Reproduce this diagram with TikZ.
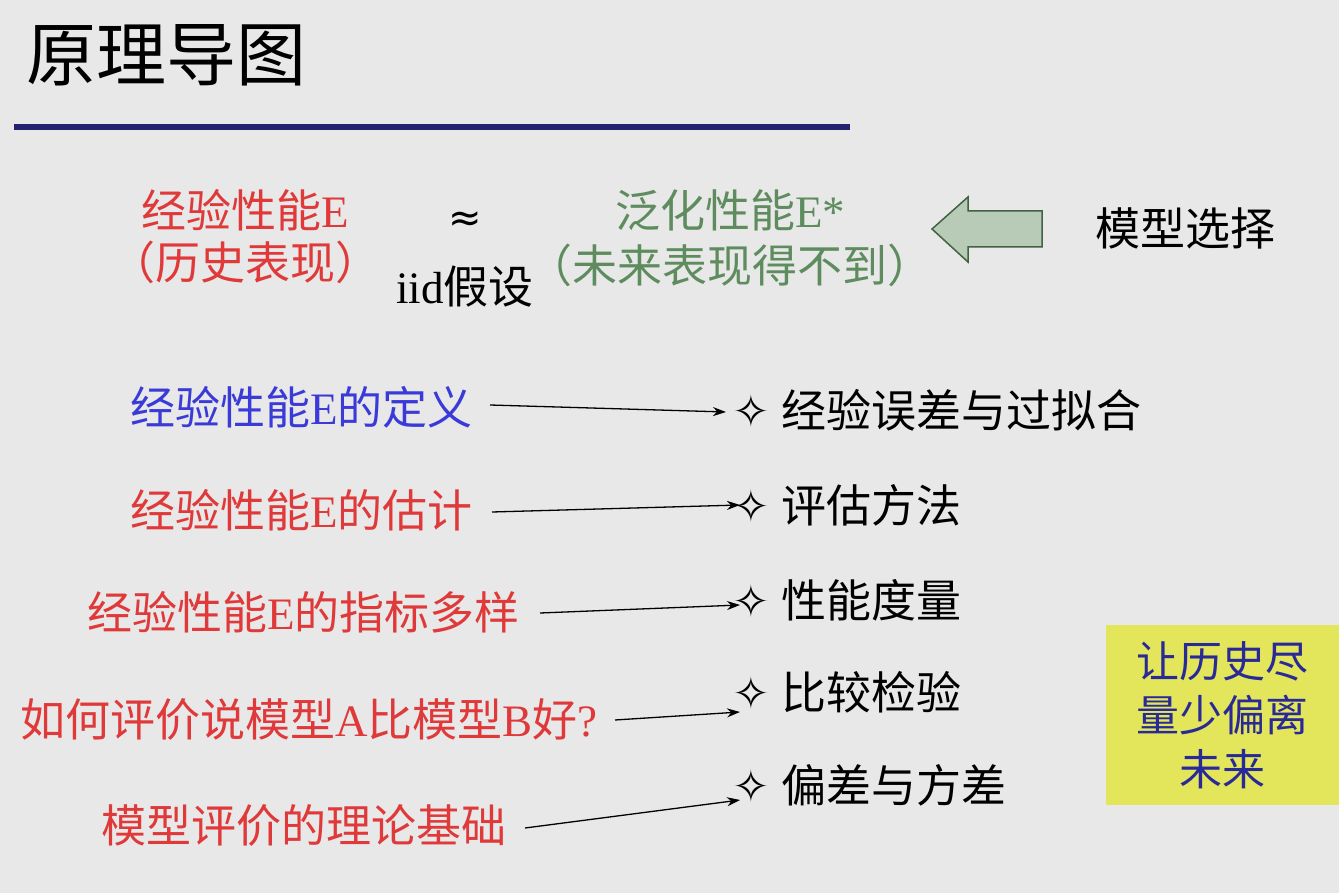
\documentclass[tikz,border=0pt]{standalone}
\usepackage{fontspec}
\setmainfont{Liberation Serif}
\newfontfamily\cjk{Noto Sans CJK SC}
\newfontfamily\djv{DejaVu Sans}
\usetikzlibrary{arrows.meta}
\definecolor{bg}{HTML}{E8E8E8}
\definecolor{myred}{HTML}{E0393A}
\definecolor{myblue}{HTML}{3A3AD8}
\definecolor{mygreen}{HTML}{5E8C5E}
\definecolor{navy}{HTML}{22226E}
\definecolor{ybox}{HTML}{E3E65A}
\newcommand{\C}[1]{{\cjk #1}}
\begin{document}
\begin{tikzpicture}[x=1pt,y=-1pt,
  txt/.style={font=\fontsize{45}{52}\selectfont, inner sep=0pt, anchor=center},
  con/.style={-{Stealth[length=13pt,width=9pt]}, line width=1.3pt}]
\fill[bg] (0,0) rectangle (1339,893);
\useasboundingbox (0,0) rectangle (1339,893);
\node[txt, font=\fontsize{70}{74}\selectfont, anchor=west] (title) at (26,55) {\C{原理导图}};
\draw[navy, line width=6pt] (14,127) -- (850,127);

\node[txt, myred] (e1) at (245,210) {\C{经验性能}E};
\node[txt, myred] (e2) at (245,262) {\C{（历史表现）}};
\node[txt, font=\fontsize{40}{40}\selectfont] (approx) at (465,222) {\djv ≈};
\node[txt] (iid) at (465,287) {iid\C{假设}};
\node[txt, mygreen] (g1) at (730,210) {\C{泛化性能}E*};
\node[txt, mygreen] (g2) at (730,265) {\C{（未来表现得不到）}};
\draw[draw=mygreen!70!black, fill=mygreen!45!white, line width=1.5pt, line join=miter]
  (932,229) -- (968,197) -- (968,211) -- (1042,211) -- (1042,247) -- (968,247) -- (968,262) -- cycle;
\node[txt] (sel) at (1185,228) {\C{模型选择}};

\node[txt, myblue, anchor=east] (l1) at (473,407) {\C{经验性能}E\C{的定义}};
\node[txt, myred, anchor=east] (l2) at (473,510) {\C{经验性能}E\C{的估计}};
\node[txt, myred, anchor=east] (l3) at (520,612) {\C{经验性能}E\C{的指标多样}};
\node[txt, myred, anchor=east] (l4) at (598,720) {\C{如何评价说模型}A\C{比模型}B\C{好}?};
\node[txt, myred, anchor=east] (l5) at (507,825) {\C{模型评价的理论基础}};

\node[txt, anchor=west] (r1) at (732,410) {{\djv ✧} \C{经验误差与过拟合}};
\node[txt, anchor=west] (r2) at (732,505) {{\djv ✧} \C{评估方法}};
\node[txt, anchor=west] (r3) at (732,600) {{\djv ✧} \C{性能度量}};
\node[txt, anchor=west] (r4) at (732,692) {{\djv ✧} \C{比较检验}};
\node[txt, anchor=west] (r5) at (732,785) {{\djv ✧} \C{偏差与方差}};

\draw[con] ([xshift=17pt,yshift=2pt]l1.east) -- ([xshift=-6pt,yshift=-2pt]r1.west);
\draw[con] ([xshift=19pt,yshift=-2pt]l2.east) -- ([xshift=8pt]r2.west);
\draw[con] ([xshift=20pt,yshift=-1pt]l3.east) -- ([xshift=8pt,yshift=-5pt]r3.west);
\draw[con] ([xshift=17pt]l4.east) -- ([xshift=8pt,yshift=-20pt]r4.west);
\draw[con] ([xshift=18pt,yshift=-3pt]l5.east) -- ([xshift=8pt,yshift=-15pt]r5.west);

\node[fill=ybox, minimum width=233pt, minimum height=180pt, inner sep=0pt] (yb) at (1222.5,715) {};
\node[txt, myblue!70!black, align=center, font=\fontsize{43}{54}\selectfont] (ybt) at (yb.center) {\C{让历史尽}\\\C{量少偏离}\\\C{未来}};
\end{tikzpicture}
\end{document}
